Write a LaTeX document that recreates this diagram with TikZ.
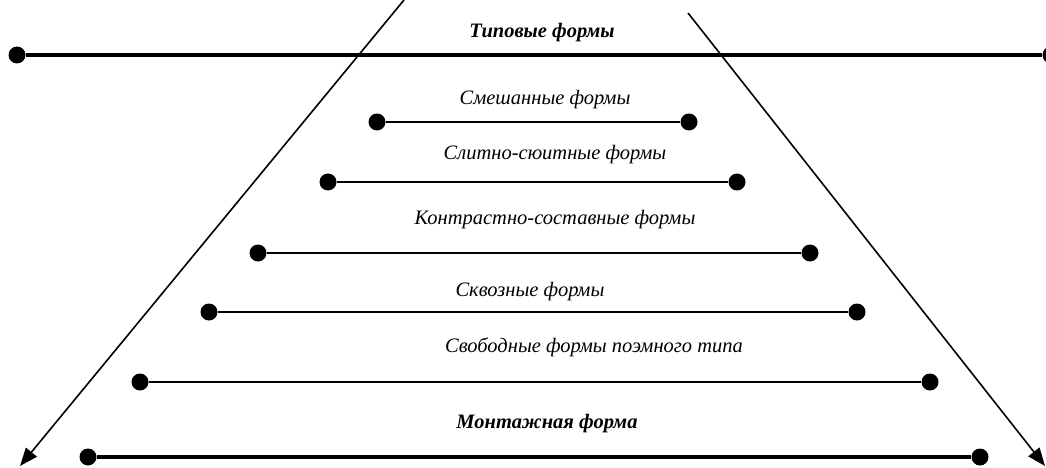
\documentclass[tikz,border=0pt]{standalone}
\usepackage{fontspec}
\setmainfont{Liberation Serif}
\usetikzlibrary{arrows.meta}
\begin{document}
\begin{tikzpicture}[x=1pt,y=-1pt,
  dot/.style={circle,fill=black,inner sep=0pt,minimum size=17pt},
  lbl/.style={font=\fontsize{20.5}{24}\selectfont\itshape,inner sep=0pt},
  blbl/.style={font=\fontsize{20.5}{24}\selectfont\bfseries\itshape,inner sep=0pt},
  thick line/.style={line width=3.6pt},
  mid line/.style={line width=2.6pt},
  diag/.style={line width=1.6pt,-{Triangle[length=18pt,width=14pt]}}]
\useasboundingbox (0,0) rectangle (1046,468);
% diagonal arrows
\coordinate (ls) at (404,0);
\coordinate (le) at (20,466);
\coordinate (rs) at (688,13);
\coordinate (re) at (1045,466);
\draw[diag] (ls) -- (le);
\draw[diag] (rs) -- (re);
% top
\node[dot] (t1) at (17,55) {};
\node[dot] (t2) at (1051,55) {};
\draw[thick line] (t1) -- (t2);
\node[blbl] (tt) at (542,33) {Типовые формы};
% Смешанные
\node[dot] (a1) at (377,122) {};
\node[dot] (a2) at (689,122) {};
\draw[mid line] (a1) -- (a2);
\node[lbl] (at) at (545,100) {Смешанные формы};
% Слитно-сюитные
\node[dot] (b1) at (328,182) {};
\node[dot] (b2) at (737,182) {};
\draw[mid line] (b1) -- (b2);
\node[lbl] (bt) at (555,155) {Слитно-сюитные формы};
% Контрастно-составные
\node[dot] (c1) at (258,253) {};
\node[dot] (c2) at (810,253) {};
\draw[mid line] (c1) -- (c2);
\node[lbl] (ct) at (555,220) {Контрастно-составные формы};
% Сквозные
\node[dot] (d1) at (209,312) {};
\node[dot] (d2) at (857,312) {};
\draw[mid line] (d1) -- (d2);
\node[lbl] (dt) at (530,292) {Сквозные формы};
% Свободные
\node[dot] (e1) at (140,382) {};
\node[dot] (e2) at (930,382) {};
\draw[mid line] (e1) -- (e2);
\node[lbl] (et) at (594,347) {Свободные формы поэмного типа};
% Монтажная
\node[dot] (f1) at (88,457) {};
\node[dot] (f2) at (980,457) {};
\draw[thick line] (f1) -- (f2);
\node[blbl] (ft) at (547,424) {Монтажная форма};
\end{tikzpicture}
\end{document}
